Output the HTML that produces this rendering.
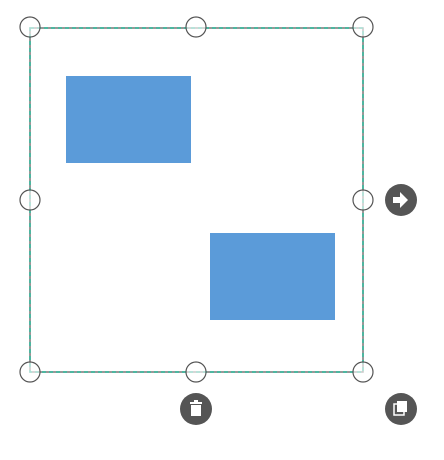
<!DOCTYPE html>
<html><head><meta charset="utf-8"><style>
html,body{margin:0;padding:0;background:#fff;width:444px;height:460px;overflow:hidden}
</style></head><body>
<svg width="444" height="460" viewBox="0 0 444 460">
<rect x="66" y="76" width="125" height="87" fill="#5b9bd9"/>
<rect x="210" y="233" width="125" height="87" fill="#5b9bd9"/>
<rect x="30" y="28" width="333" height="344" fill="none" stroke="#777" stroke-width="1.5"/>
<rect x="30" y="28" width="333" height="344" fill="none" stroke="#2bb598" stroke-width="1.5" stroke-dasharray="4,3"/>
<g fill="rgba(255,255,255,0.6)" stroke="#555" stroke-width="1.2">
<circle cx="30" cy="27" r="10"/>
<circle cx="196" cy="27" r="10"/>
<circle cx="363" cy="27" r="10"/>
<circle cx="30" cy="200" r="10"/>
<circle cx="363" cy="200" r="10"/>
<circle cx="30" cy="372" r="10"/>
<circle cx="196" cy="372" r="10"/>
<circle cx="363" cy="372" r="10"/>
</g>
<g>
<circle cx="401" cy="200" r="16" fill="#555"/>
<path d="M393 197h7v-5l8 8-8 8v-5h-7z" fill="#fff"/>
</g>
<g>
<circle cx="196" cy="409" r="16" fill="#555"/>
<rect x="190" y="402" width="12" height="2" fill="#fff"/>
<rect x="194" y="400" width="4" height="2" fill="#fff"/>
<rect x="191" y="405" width="10" height="11" fill="#fff"/>
</g>
<g>
<circle cx="401" cy="409" r="16" fill="#555"/>
<rect x="394" y="404" width="10" height="11" fill="none" stroke="#fff" stroke-width="1.5"/>
<rect x="397" y="401" width="10" height="11" fill="#fff"/>
</g>
</svg>
</body></html>
